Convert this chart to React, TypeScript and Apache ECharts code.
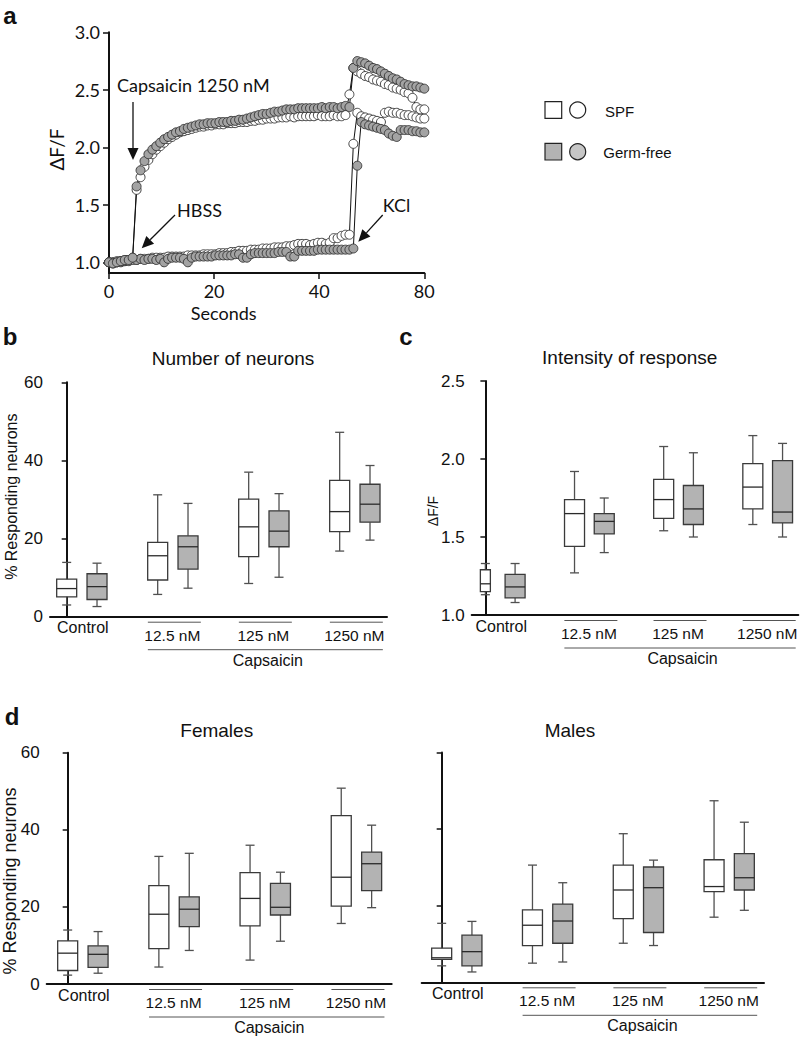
import React, { useEffect, useRef } from "react";
import * as echarts from "echarts";

// ---------- Panel a: calcium traces ----------
const seconds = [
  0, 0.75, 1.5, 2.25, 3, 3.75, 4.5, 5.25, 6, 6.75, 7.5, 8.25, 9, 9.75, 10.5, 11.25, 12, 12.75, 13.5, 14.25,
  15, 15.75, 16.5, 17.25, 18, 18.75, 19.5, 20.25, 21, 21.75, 22.5, 23.25, 24, 24.75, 25.5, 26.25, 27, 27.75, 28.5, 29.25,
  30, 30.75, 31.5, 32.25, 33, 33.75, 34.5, 35.25, 36, 36.75, 37.5, 38.25, 39, 39.75, 40.5, 41.25, 42, 42.75, 43.5, 44.25,
  45, 45.75, 46.5, 47.25, 48, 48.75, 49.5, 50.25, 51, 51.75, 52.5, 53.25, 54, 54.75, 55.5, 56.25, 57, 57.75, 58.5, 59.25, 60,
];
const capsaicinSpf = [
  1.0, 1.0, 1.01, 1.01, 1.02, 1.02, 1.04,
  1.63, 1.74, 1.83, 1.89, 1.94, 1.98, 2.01, 2.04, 2.07, 2.09,
  2.11, 2.13, 2.14, 2.15, 2.16, 2.17, 2.18, 2.18, 2.19, 2.19,
  2.2, 2.2, 2.2, 2.21, 2.21, 2.21, 2.22, 2.22, 2.22, 2.23,
  2.23, 2.24, 2.24, 2.25, 2.25, 2.25, 2.26, 2.26, 2.26, 2.27,
  2.26, 2.27, 2.27, 2.27, 2.27, 2.27, 2.28, 2.27, 2.27, 2.27,
  2.28, 2.27, 2.27, 2.28,
  2.46, 2.69, 2.66, 2.64, 2.62, 2.61, 2.59, 2.58, 2.57, 2.55,
  2.54, 2.52, 2.51, 2.5, 2.48, 2.47, 2.43, 2.35, 2.33, 2.33,
];
const capsaicinGf = [
  1.0, 0.99, 1.0, 1.01, 1.02, 1.02, 1.04,
  1.66, 1.8, 1.88, 1.94, 1.98, 2.01, 2.04, 2.07, 2.09, 2.11,
  2.13, 2.14, 2.16, 2.17, 2.18, 2.19, 2.2, 2.2, 2.21, 2.21,
  2.21, 2.22, 2.22, 2.22, 2.23, 2.23, 2.24, 2.24, 2.25, 2.26,
  2.27, 2.28, 2.29, 2.29, 2.3, 2.31, 2.31, 2.32, 2.33, 2.33,
  2.33, 2.34, 2.34, 2.34, 2.34, 2.34, 2.34, 2.35, 2.34, 2.35,
  2.35, 2.34, 2.35, 2.36,
  2.35, 2.69, 2.75, 2.74, 2.73, 2.71, 2.69, 2.68, 2.66, 2.64,
  2.62, 2.6, 2.59, 2.57, 2.55, 2.54, 2.53, 2.53, 2.52, 2.51,
];
const hbssSpf = [
  1.0, 1.0, 1.0, 1.01, 1.01, 1.02, 1.03,
  1.02, 1.03, 1.03, 1.03, 1.04, 1.04, 1.04, 1.04, 1.05, 1.05,
  1.05, 1.05, 1.05, 1.06, 1.06, 1.06, 1.06, 1.07, 1.07, 1.07,
  1.07, 1.08, 1.08, 1.08, 1.09, 1.09, 1.1, 1.1, 1.1, 1.11,
  1.11, 1.11, 1.12, 1.12, 1.12, 1.13, 1.13, 1.13, 1.14, 1.14,
  1.15, 1.16, 1.16, 1.16, 1.15, 1.16, 1.17, 1.17, 1.16, 1.17,
  1.21, 1.21, 1.23, 1.24,
  1.24, 2.03, 2.3, 2.27, 2.26, 2.25, 2.24, 2.23, 2.22, 2.3,
  2.31, 2.3, 2.3, 2.29, 2.28, 2.28, 2.27, 2.26, 2.25, 2.25,
];
const hbssGf = [
  1.0, 0.99, 1.0, 1.0, 1.01, 1.01, 1.02,
  1.02, 1.03, 1.02, 1.03, 1.03, 1.02, 1.03, 1.0, 1.03, 1.04,
  1.04, 1.04, 1.03, 1.0, 1.04, 1.05, 1.05, 1.05, 1.05, 1.05,
  1.06, 1.06, 1.06, 1.06, 1.06, 1.07, 1.07, 1.04, 1.04, 1.07,
  1.08, 1.08, 1.08, 1.08, 1.08, 1.08, 1.09, 1.09, 1.09, 1.05,
  1.05, 1.1, 1.1, 1.1, 1.1, 1.1, 1.11, 1.11, 1.11, 1.11,
  1.11, 1.11, 1.11, 1.11,
  1.11, 1.12, 1.84, 2.22, 2.2, 2.19, 2.18, 2.17, 2.16, 2.15,
  2.12, 2.1, 2.09, 2.15, 2.15, 2.15, 2.14, 2.14, 2.13, 2.13,
];
const traceXTickLabels = ["0", "20", "40", "80"];
const traceYTicks = [1.0, 1.5, 2.0, 2.5, 3.0];

// ---------- Box plots: [min, Q1, median, Q3, max] ----------
const doseLabels = ["Control", "12.5 nM", "125 nM", "1250 nM"];
const groupLabel = "Capsaicin";
const legendNames = ["SPF", "Germ-free"];

const neuronsSpf = [[3.0, 5.1, 7.2, 9.6, 13.9], [5.7, 9.4, 15.6, 19.0, 31.2], [8.5, 15.4, 23.0, 30.1, 37.0], [16.8, 21.8, 26.9, 34.9, 47.2]];
const neuronsGf = [[2.6, 4.4, 7.7, 11.0, 13.7], [7.3, 12.2, 17.9, 20.7, 29.0], [10.1, 17.9, 21.9, 27.1, 31.5], [19.6, 24.2, 28.8, 33.9, 38.7]];
const intensitySpf = [[1.13, 1.15, 1.2, 1.29, 1.33], [1.27, 1.44, 1.65, 1.74, 1.92], [1.54, 1.62, 1.74, 1.87, 2.08], [1.58, 1.68, 1.82, 1.97, 2.15]];
const intensityGf = [[1.08, 1.11, 1.18, 1.26, 1.33], [1.4, 1.52, 1.6, 1.65, 1.75], [1.5, 1.58, 1.68, 1.83, 2.04], [1.5, 1.59, 1.66, 1.99, 2.1]];
const femalesSpf = [[2.3, 3.5, 8.0, 11.2, 14.0], [4.4, 9.2, 18.1, 25.5, 33.1], [6.2, 15.1, 22.2, 28.9, 36.0], [15.7, 20.2, 27.7, 43.7, 50.8]];
const femalesGf = [[2.8, 4.3, 7.7, 9.9, 13.6], [8.7, 14.9, 19.4, 22.6, 33.9], [11.1, 17.9, 19.9, 26.1, 29.0], [19.8, 24.2, 31.2, 34.2, 41.2]];
const malesSpf = [[4.3, 6.0, 6.4, 8.9, 15.4], [5.0, 9.6, 14.9, 18.9, 30.6], [10.2, 16.6, 24.1, 30.6, 38.8], [17.0, 23.7, 25.0, 32.0, 47.4]];
const malesGf = [[2.7, 4.3, 8.0, 12.3, 15.9], [5.3, 10.2, 16.0, 20.4, 26.0], [9.6, 13.0, 24.7, 30.1, 31.9], [18.8, 24.1, 27.3, 33.6, 41.8]];

// slot layout of the box positions on each x axis
const spfSlots = [0, 3, 6, 9];
const gfSlots = [1, 4, 7, 10];

const SANS = "'Liberation Sans', Arial, sans-serif";
const LATO = "Lato, 'Liberation Sans', sans-serif";
const GF_BOX = "#b3b3b3";
const GF_DOT = "#a3a3a3";

type Panel = {
  grid: { left: number; top: number; width: number; height: number };
  x: [number, number];
  y: [number, number, number];
  spf: number[][];
  gf: number[][];
  showLabels: boolean;
  decimals: number;
  narrowSpf0?: boolean;
};

const panels: Panel[] = [
  { grid: { left: 50, top: 382.3, width: 337, height: 234.4 }, x: [-0.55, 10.56], y: [0, 60, 20], spf: neuronsSpf, gf: neuronsGf, showLabels: true, decimals: 0 },
  { grid: { left: 471.7, top: 381, width: 326.6, height: 234 }, x: [-0.46, 10.53], y: [1, 2.5, 0.5], spf: intensitySpf, gf: intensityGf, showLabels: true, decimals: 1, narrowSpf0: true },
  { grid: { left: 46.7, top: 752.7, width: 345, height: 231.3 }, x: [-0.69, 10.66], y: [0, 60, 20], spf: femalesSpf, gf: femalesGf, showLabels: true, decimals: 0 },
  { grid: { left: 421.7, top: 752.5, width: 342.3, height: 229.8 }, x: [-0.66, 10.65], y: [0, 60, 20], spf: malesSpf, gf: malesGf, showLabels: false, decimals: 0 },
];

function boxSeries(axisIndex: number, data: number[][], slots: number[], fill: string, narrowFirst: boolean) {
  return {
    type: "custom",
    xAxisIndex: axisIndex,
    yAxisIndex: axisIndex,
    encode: { x: 0, y: [1, 2, 3, 4, 5] },
    data: data.map((d, k) => [slots[k], ...d]),
    renderItem: (params: any, api: any) => {
      const slot = api.value(0);
      const pt = (v: number) => api.coord([slot, v]);
      const bot = pt(api.value(1));
      const q1 = pt(api.value(2));
      const med = pt(api.value(3));
      const q3 = pt(api.value(4));
      const top = pt(api.value(5));
      const cx = top[0];
      const w = narrowFirst && params.dataIndex === 0 ? 10 : 20;
      const hw = w / 2;
      const cw = 4.5;
      const ws = { stroke: "#505050", lineWidth: 1.3 };
      return {
        type: "group",
        children: [
          { type: "line", shape: { x1: cx, y1: top[1], x2: cx, y2: q3[1] }, style: ws },
          { type: "line", shape: { x1: cx - cw, y1: top[1], x2: cx + cw, y2: top[1] }, style: ws },
          { type: "line", shape: { x1: cx, y1: q1[1], x2: cx, y2: bot[1] }, style: ws },
          { type: "line", shape: { x1: cx - cw, y1: bot[1], x2: cx + cw, y2: bot[1] }, style: ws },
          { type: "rect", shape: { x: cx - hw, y: q3[1], width: w, height: q1[1] - q3[1] }, style: { fill, stroke: "#3a3a3a", lineWidth: 1.3 } },
          { type: "line", shape: { x1: cx - hw, y1: med[1], x2: cx + hw, y2: med[1] }, style: { stroke: "#2a2a2a", lineWidth: 1.3 } },
        ],
      };
    },
  };
}

function traceSeries(values: number[], fill: string) {
  return {
    type: "line",
    xAxisIndex: 0,
    yAxisIndex: 0,
    data: seconds.map((t, i) => [t, values[i]]),
    symbol: "circle",
    symbolSize: 9,
    showAllSymbol: true,
    lineStyle: { color: "#111", width: 1 },
    itemStyle: { color: fill, borderColor: "#333", borderWidth: 0.9 },
    emphasis: { disabled: true },
  };
}

function text(t: string, x: number, y: number, size: number, opts: any = {}) {
  return {
    type: "text",
    x,
    y,
    rotation: opts.rotation || 0,
    style: {
      text: t,
      fontSize: size,
      fontFamily: opts.family || SANS,
      fontWeight: opts.weight || "normal",
      fill: "#111",
      align: opts.align || "center",
      verticalAlign: "middle",
    },
  };
}

function hline(x1: number, x2: number, y: number, color = "#444", width = 1) {
  return { type: "line", shape: { x1, y1: y, x2, y2: y }, style: { stroke: color, lineWidth: width } };
}

function arrow(x1: number, y1: number, x2: number, y2: number) {
  const dx = x2 - x1;
  const dy = y2 - y1;
  const len = Math.sqrt(dx * dx + dy * dy);
  const ux = dx / len;
  const uy = dy / len;
  const hl = 12;
  const hw = 5.5;
  const bx = x2 - ux * hl;
  const by = y2 - uy * hl;
  return [
    { type: "line", shape: { x1, y1, x2: bx, y2: by }, style: { stroke: "#111", lineWidth: 1.3 } },
    {
      type: "polygon",
      shape: { points: [[x2, y2], [bx - uy * hw, by + ux * hw], [bx + uy * hw, by - ux * hw]] },
      style: { fill: "#111" },
    },
  ];
}

export default function App() {
  const ref = useRef<HTMLDivElement>(null);

  useEffect(() => {
    document.body.style.margin = "0";
    if (!ref.current) return;
    const chart = echarts.init(ref.current, null, { renderer: "svg" });

    const axisLine = { show: true, lineStyle: { color: "#111", width: 2 } };
    const grids: any[] = [{ left: 109, top: 32.3, width: 315.3, height: 240.7 }, ...panels.map((p) => p.grid)];

    const xAxes: any[] = [
      {
        type: "value",
        gridIndex: 0,
        min: 0,
        max: 60,
        interval: 20,
        axisLine,
        axisTick: { show: true, length: 6, lineStyle: { color: "#111", width: 1.5 } },
        axisLabel: {
          color: "#111",
          fontSize: 18,
          fontFamily: LATO,
          margin: 9,
          formatter: (v: number) => traceXTickLabels[Math.round(v / 20)],
        },
        splitLine: { show: false },
      },
      ...panels.map((p, i) => ({
        type: "value",
        gridIndex: i + 1,
        min: p.x[0],
        max: p.x[1],
        axisLine,
        axisTick: { show: false },
        axisLabel: { show: false },
        splitLine: { show: false },
      })),
    ];

    const yAxes: any[] = [
      {
        type: "value",
        gridIndex: 0,
        min: 0.907,
        max: 3.0,
        axisLine,
        axisTick: { show: true, length: 6, customValues: traceYTicks, lineStyle: { color: "#111", width: 1.5 } },
        axisLabel: {
          customValues: traceYTicks,
          color: "#111",
          fontSize: 18,
          fontFamily: LATO,
          margin: 9,
          formatter: (v: number) => v.toFixed(1),
        },
        splitLine: { show: false },
      },
      ...panels.map((p, i) => ({
        type: "value",
        gridIndex: i + 1,
        min: p.y[0],
        max: p.y[1],
        interval: p.y[2],
        axisLine,
        axisTick: { show: true, length: 5, lineStyle: { color: "#111", width: 1.5 } },
        axisLabel: {
          show: p.showLabels,
          color: "#111",
          fontSize: 17,
          fontFamily: SANS,
          margin: 7,
          formatter: (v: number) => v.toFixed(p.decimals),
        },
        splitLine: { show: false },
      })),
    ];

    const series: any[] = [
      traceSeries(hbssSpf, "#ffffff"),
      traceSeries(capsaicinSpf, "#ffffff"),
      traceSeries(hbssGf, GF_DOT),
      traceSeries(capsaicinGf, GF_DOT),
    ];
    panels.forEach((p, i) => {
      series.push(boxSeries(i + 1, p.spf, spfSlots, "#ffffff", !!p.narrowSpf0));
      series.push(boxSeries(i + 1, p.gf, gfSlots, GF_BOX, false));
    });

    chart.setOption({
      animation: false,
      backgroundColor: "#ffffff",
      grid: grids.map((g) => ({ ...g, containLabel: false, outerBoundsMode: "none" })),
      xAxis: xAxes,
      yAxis: yAxes,
      series,
    });

    // annotations positioned through the axes' own scales
    const g: any[] = [];
    panels.forEach((p, i) => {
      const ax = i + 1;
      const px = (v: number) => chart.convertToPixel({ xAxisIndex: ax }, v) as number;
      const bottom = p.grid.top + p.grid.height;
      const centers = [0.5, 3.5, 6.5, 9.5].map(px);
      g.push(text(doseLabels[0], centers[0] + 1, bottom + 11, 16));
      for (let k = 1; k < 4; k++) {
        g.push(hline(centers[k] - 25, centers[k] + 28, bottom + 5.5, "#555", 1));
        g.push(text(doseLabels[k], centers[k] - 0.5, bottom + 18.5, 15.5));
      }
      g.push(hline(centers[1] - 25, centers[3] + 28, bottom + 33, "#555", 1));
      g.push(text(groupLabel, centers[2] + 4, bottom + 43.5, 16));
    });

    // panel a annotations
    g.push(text("Capsaicin 1250 nM", 193.3, 85, 18, { family: LATO }));
    g.push(...arrow(133, 102, 133, 160));
    g.push(text("HBSS", 199.5, 209.5, 18, { family: LATO }));
    g.push(...arrow(175, 215, 141.7, 248.3));
    g.push(text("KCl", 396.5, 204.5, 18, { family: LATO }));
    g.push(...arrow(382.7, 215, 358.3, 241.7));
    g.push(text("Seconds", 223.7, 313, 18, { family: LATO }));
    g.push(text("ΔF/F", 56, 149.5, 19, { family: LATO, rotation: Math.PI / 2 }));

    // legend
    g.push({ type: "rect", shape: { x: 545, y: 101.7, width: 16.7, height: 16.7 }, style: { fill: "#fff", stroke: "#222", lineWidth: 1.2 } });
    g.push({ type: "circle", shape: { cx: 577.7, cy: 110, r: 8 }, style: { fill: "#fff", stroke: "#222", lineWidth: 1.2 } });
    g.push(text(legendNames[0], 605, 111, 15, { align: "left" }));
    g.push({ type: "rect", shape: { x: 545, y: 143.3, width: 16.7, height: 16.7 }, style: { fill: GF_BOX, stroke: "#222", lineWidth: 1.2 } });
    g.push({ type: "circle", shape: { cx: 577.7, cy: 151.7, r: 8 }, style: { fill: "#c6c6c6", stroke: "#222", lineWidth: 1.2 } });
    g.push(text(legendNames[1], 603.3, 152.5, 15, { align: "left" }));

    // panel letters
    g.push(text("a", 10, 15, 24, { weight: "bold" }));
    g.push(text("b", 10, 336, 24, { weight: "bold" }));
    g.push(text("c", 406, 336, 24, { weight: "bold" }));
    g.push(text("d", 12, 716, 24, { weight: "bold" }));

    // titles
    g.push(text("Number of neurons", 233, 358, 19));
    g.push(text("Intensity of response", 629.7, 357.5, 19));
    g.push(text("Females", 216.7, 730, 19));
    g.push(text("Males", 570, 730, 19));

    // y-axis names
    g.push(text("% Responding neurons", 11, 496.7, 16, { rotation: Math.PI / 2 }));
    g.push(text("ΔF/F", 433, 511, 14, { rotation: Math.PI / 2 }));
    g.push(text("% Responding neurons", 10, 881, 18, { rotation: Math.PI / 2 }));

    chart.setOption({ graphic: { elements: g } });

    return () => {
      chart.dispose();
    };
  }, []);

  return <div ref={ref} style={{ width: 800, height: 1037 }} />;
}
